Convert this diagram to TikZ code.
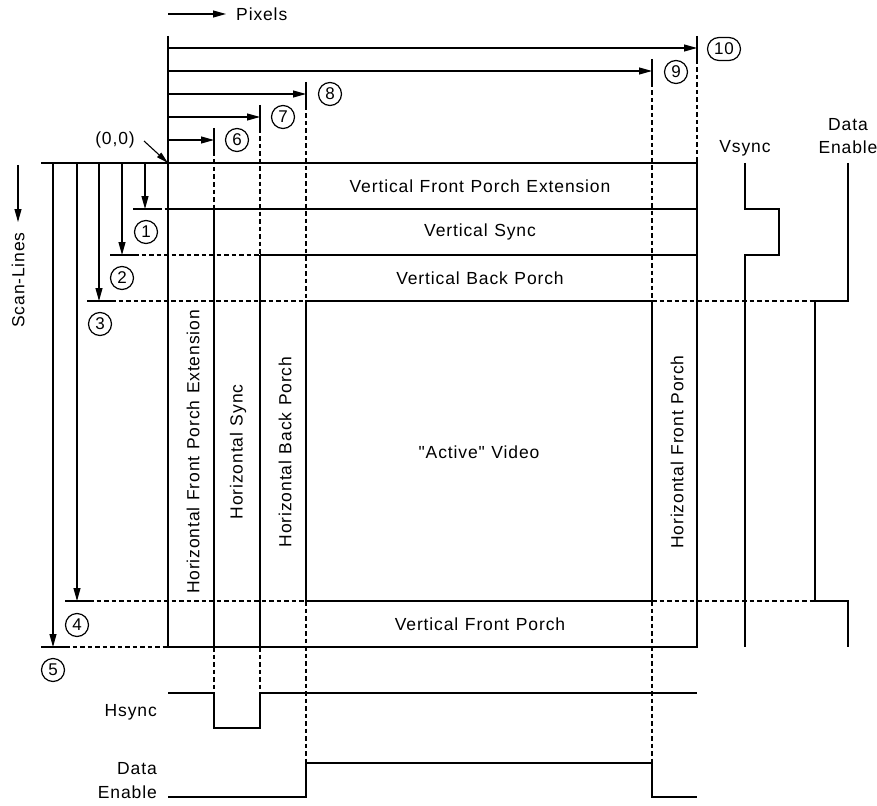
\documentclass[tikz,border=0pt]{standalone}
\usepackage{fontspec}
\setmainfont[LetterSpace=5,WordSpace=1.15]{Liberation Sans}
\newfontfamily\qfont[LetterSpace=5,WordSpace=1.15]{Liberation Sans}
\usetikzlibrary{arrows.meta}
\begin{document}
\begin{tikzpicture}[x=1pt,y=-1pt,
  frameline/.style={line width=2.2pt},
  dimline/.style={line width=1.1pt},
  dimarrow/.style={line width=1.1pt,-{Triangle[length=13pt,width=7pt]}},
  dashline/.style={line width=1.1pt,dash pattern=on 4.5pt off 3pt},
  sig/.style={line width=2.2pt,line join=miter},
  lbl/.style={inner sep=0pt,font=\fontsize{17.5}{22}\selectfont},
  num/.style={circle,draw,line width=1.2pt,minimum size=23pt,inner sep=0pt,font=\fontsize{17}{17}\selectfont},
  numwide/.style={rectangle,rounded corners=11.5pt,draw,line width=1.2pt,minimum width=33pt,minimum height=23pt,inner sep=0pt,font=\fontsize{17}{17}\selectfont}
]
\useasboundingbox (0,0) rectangle (877,805);

% named corner points
\coordinate (O) at (168,163);
\coordinate (TR) at (697,163);
\coordinate (BR) at (697,647);
\coordinate (BL) at (168,647);

% Pixels arrow
\coordinate (pxs) at (168,14);
\coordinate (pxe) at (226,14);
\draw[dimarrow] (pxs) -- (pxe);
\node[lbl,anchor=west] (pixels) at (236,14) {Pixels};

% Scan-Lines arrow
\coordinate (sls) at (18,165);
\coordinate (sle) at (18,222);
\draw[dimarrow] (sls) -- (sle);
\node[lbl,rotate=90] (scan) at (18,280) {Scan-Lines};

% horizontal dimension arrows
\draw[dimline] (168,36) -- (O);
\foreach \x/\y in {214/140,260/117,306/94,652/71,697/48}{
  \draw[dimarrow] (168,\y) -- (\x,\y);
  \draw[dimline] (\x,\y-12) -- (\x,\y+12);
}
% vertical dimension arrows
\draw[dimline] (41,163) -- (O);
\foreach \x/\y in {145/209,122/255,99/301,77/601,53/647}{
  \draw[dimarrow] (\x,163) -- (\x,\y);
  \draw[dimline] (\x-12,\y) -- (\x+12,\y);
}

% circled numbers
\node[num] (n1) at (146,232) {1};
\node[num] (n2) at (122,278) {2};
\node[num] (n3) at (100,324) {3};
\node[num] (n4) at (77,625) {4};
\node[num] (n5) at (53,670) {5};
\node[num] (n6) at (237,140) {6};
\node[num] (n7) at (283,117) {7};
\node[num] (n8) at (330,94) {8};
\node[num] (n9) at (676,72) {9};
\node[numwide] (n10) at (724,49) {10};

% origin label
\node[lbl] (orig) at (115,140) {(0,0)};
\draw[dimline,-{Triangle[length=12pt,width=6pt]}] (144,141) -- (O);

% dashed guide lines (vertical)
\draw[dashline] (214,152) -- (214,209);
\draw[dashline] (214,647) -- (214,693);
\draw[dashline] (260,129) -- (260,255);
\draw[dashline] (260,647) -- (260,693);
\draw[dashline] (306,106) -- (306,301);
\draw[dashline] (306,601) -- (306,763);
\draw[dashline] (652,83) -- (652,301);
\draw[dashline] (652,601) -- (652,763);
\draw[dashline] (697,60) -- (TR);
% dashed guide lines (horizontal)
\draw[dashline] (157,209) -- (168,209);
\draw[dashline] (134,255) -- (260,255);
\draw[dashline] (111,301) -- (306,301);
\draw[dashline] (652,301) -- (815,301);
\draw[dashline] (89,601) -- (306,601);
\draw[dashline] (652,601) -- (815,601);
\draw[dashline] (65,647) -- (BL);

% frame and regions
\draw[frameline] (O) rectangle (BR);
\draw[frameline] (168,209) -- (697,209);
\draw[frameline] (260,255) -- (697,255);
\draw[frameline] (214,209) -- (214,647);
\draw[frameline] (260,255) -- (260,647);
\draw[frameline] (306,301) rectangle (652,601);

% region labels
\node[lbl] (vfpe) at (480,186) {Vertical Front Porch Extension};
\node[lbl] (vs) at (480,232) {Vertical Sync};
\node[lbl] (vbp) at (480,278) {Vertical Back Porch};
\node[lbl] (vfp) at (480,624) {Vertical Front Porch};
\node[lbl] (act) at (479,452) {\qfont "Active" Video};
\node[lbl,rotate=90] (hfpe) at (193,452) {Horizontal Front Porch Extension};
\node[lbl,rotate=90] (hs) at (238,452) {Horizontal Sync};
\node[lbl,rotate=90] (hbp) at (285,452) {Horizontal Back Porch};
\node[lbl,rotate=90] (hfp) at (677,452) {Horizontal Front Porch};

% signals
\draw[sig] (745,163) -- (745,209) -- (779,209) -- (779,255) -- (745,255) -- (745,647);
\draw[sig] (848,163) -- (848,301) -- (815,301) -- (815,601) -- (848,601) -- (848,647);
\draw[sig] (168,693) -- (214,693) -- (214,728) -- (260,728) -- (260,693) -- (697,693);
\draw[sig] (168,797) -- (306,797) -- (306,763) -- (652,763) -- (652,797) -- (697,797);

% signal labels
\node[lbl] (vsl) at (745,148) {Vsync};
\node[lbl,align=center,font=\fontsize{17.5}{23}\selectfont] (del) at (848,136) {Data\\Enable};
\node[lbl,anchor=east] (hsl) at (157,712) {Hsync};
\node[lbl,anchor=east,align=right,font=\fontsize{17.5}{24}\selectfont] (deb) at (157,781) {Data\\Enable};
\end{tikzpicture}
\end{document}
